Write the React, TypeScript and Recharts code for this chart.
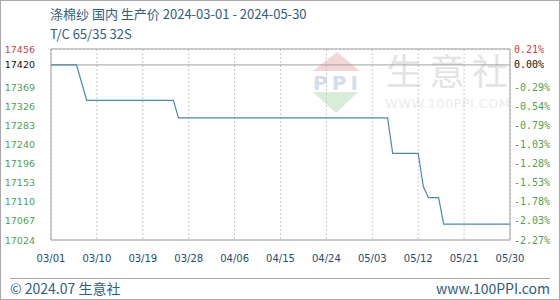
import React from 'react';
import { LineChart, Line, XAxis, YAxis, CartesianGrid, ReferenceLine } from 'recharts';

const dates = ['2024-03-01', '2024-03-06', '2024-03-08', '2024-03-25', '2024-03-26', '2024-05-06', '2024-05-07', '2024-05-12', '2024-05-13', '2024-05-14', '2024-05-16', '2024-05-17', '2024-05-30'];
const prices = [17420, 17420, 17340, 17340, 17300, 17300, 17220, 17220, 17145, 17120, 17120, 17060, 17060];

const xTickDates = ['2024-03-01', '2024-03-10', '2024-03-19', '2024-03-28', '2024-04-06', '2024-04-15', '2024-04-24', '2024-05-03', '2024-05-12', '2024-05-21', '2024-05-30'];
const xTickLabels = ['03/01', '03/10', '03/19', '03/28', '04/06', '04/15', '04/24', '05/03', '05/12', '05/21', '05/30'];

const yTicks = [17024, 17067.2, 17110.4, 17153.6, 17196.8, 17240, 17283.2, 17326.4, 17369.6, 17412.8, 17420, 17456];
const yTickLabels = ['17024', '17067', '17110', '17153', '17196', '17240', '17283', '17326', '17369', '', '17420', '17456'];
const pctLabels = ['-2.27%', '-2.03%', '-1.78%', '-1.53%', '-1.28%', '-1.03%', '-0.79%', '-0.54%', '-0.29%', '', '0.00%', '0.21%'];

const baseValue = 17420;
const yMin = 17024;
const yMax = 17456;

const title = '涤棉纱 国内 生产价 2024-03-01 - 2024-05-30';
const subtitle = 'T/C 65/35 32S';
const footerLeft = '© 2024.07 生意社';
const footerRight = 'www.100PPI.com';

const DAY = 86400000;
const start = Date.UTC(2024, 2, 1);
const toDay = (s: string) => {
  const [y, m, d] = s.split('-').map(Number);
  return Math.round((Date.UTC(y, m - 1, d) - start) / DAY);
};

const data = dates.map((d, i) => ({ day: toDay(d), price: prices[i] }));
const xTicks = xTickDates.map(toDay);

const RED = '#cc4050';
const GREEN = '#4f9f4f';
const TEXTBLUE = '#2e5e80';

const colorFor = (v: number) => (v === yMax ? RED : v === baseValue ? '#111' : GREEN);

const LeftTick = (props: any) => {
  const { x, y, payload } = props;
  const idx = yTicks.indexOf(payload.value);
  const label = idx >= 0 ? yTickLabels[idx] : '';
  if (!label) return null;
  return (
    <text x={x} y={y} dy={3.5} textAnchor="end" fontSize={9.5} fontFamily="DejaVu Sans" fill={colorFor(payload.value)}>
      {label}
    </text>
  );
};

const RightTick = (props: any) => {
  const { x, y, payload } = props;
  const idx = yTicks.indexOf(payload.value);
  const label = idx >= 0 ? pctLabels[idx] : '';
  if (!label) return null;
  return (
    <text x={x} y={y} dy={3.5} textAnchor="start" fontSize={10} fontFamily="DejaVu Sans Mono" fill={colorFor(payload.value)}>
      {label}
    </text>
  );
};

export default function App() {
  return (
    <div style={{ position: 'absolute', left: 0, top: 0, width: 560, height: 300, background: '#fff' }}>
      <svg width={560} height={300} style={{ position: 'absolute', left: 0, top: 0 }}>
        <rect x={0.5} y={0.5} width={559} height={299} fill="#fff" stroke="#a8a8a8" />
        {/* watermark */}
        <polygon points="337,52 313,71 360,71" fill="#f4d6d6" />
        <text x={313} y={90} fontSize={20} fontWeight="bold" fontFamily="DejaVu Sans" fill="#d4deea" textLength={45}>PPI</text>
        <polygon points="313,92 358,92 336,113" fill="#d8ecd8" />
        <text x={386} y={85} fontSize={36} fontFamily="Noto Sans CJK SC" fill="#e4e4e4" letterSpacing={7}>生意社</text>
        <text x={385} y={108} fontSize={13} fontFamily="DejaVu Sans" fill="#ececec" textLength={125}>WWW.100PPI.COM</text>
        {/* titles */}
        <text x={50} y={19} fontSize={13} fontFamily="Noto Sans CJK SC" fill={TEXTBLUE}>{title}</text>
        <text x={50} y={39} fontSize={13} fontFamily="Noto Sans CJK SC" fill={TEXTBLUE}>{subtitle}</text>
        {/* footer */}
        <line x1={10} y1={278.5} x2={550} y2={278.5} stroke="#a8a8a8" />
        <text x={10} y={294} fontSize={14} fontFamily="Noto Sans CJK SC" fill={TEXTBLUE}>{footerLeft}</text>
        <text x={550} y={294} fontSize={14} textAnchor="end" fontFamily="Noto Sans CJK SC" fill={TEXTBLUE}>{footerRight}</text>
      </svg>
      <div style={{ position: 'absolute', left: 0, top: 0 }}>
        <LineChart width={560} height={300} data={data} margin={{ top: 49, right: 0, bottom: 0, left: 1 }}>
          <CartesianGrid stroke="#c8c8c8" strokeDasharray="2 2" vertical horizontal />
          <XAxis
            dataKey="day"
            type="number"
            domain={[0, 90]}
            ticks={xTicks}
            tickFormatter={(v: number) => xTickLabels[xTicks.indexOf(v)] ?? ''}
            height={60}
            tickLine={false}
            tickSize={0}
            tickMargin={15}
            axisLine={{ stroke: '#a0a0a0' }}
            tick={{ fontSize: 10, fontFamily: 'DejaVu Sans', fill: '#1f4d6e' }}
            interval={0}
          />
          <YAxis
            yAxisId="left"
            domain={[yMin, yMax]}
            ticks={yTicks}
            width={50}
            tickLine={false}
            tickSize={0}
            tickMargin={16}
            axisLine={{ stroke: '#a0a0a0' }}
            tick={<LeftTick />}
            interval={0}
            allowDataOverflow
          />
          <YAxis
            yAxisId="right"
            orientation="right"
            domain={[yMin, yMax]}
            ticks={yTicks}
            width={50}
            tickLine={false}
            tickSize={0}
            tickMargin={4}
            axisLine={{ stroke: '#a0a0a0' }}
            tick={<RightTick />}
            interval={0}
            allowDataOverflow
          />
          <ReferenceLine yAxisId="left" y={yMax} stroke="#a0a0a0" />
          <ReferenceLine yAxisId="left" y={baseValue} stroke="#a0a0a0" />
          <Line
            yAxisId="left"
            type="linear"
            dataKey="price"
            stroke="#4a88b0"
            strokeWidth={1.2}
            dot={false}
            isAnimationActive={false}
          />
        </LineChart>
      </div>
    </div>
  );
}
